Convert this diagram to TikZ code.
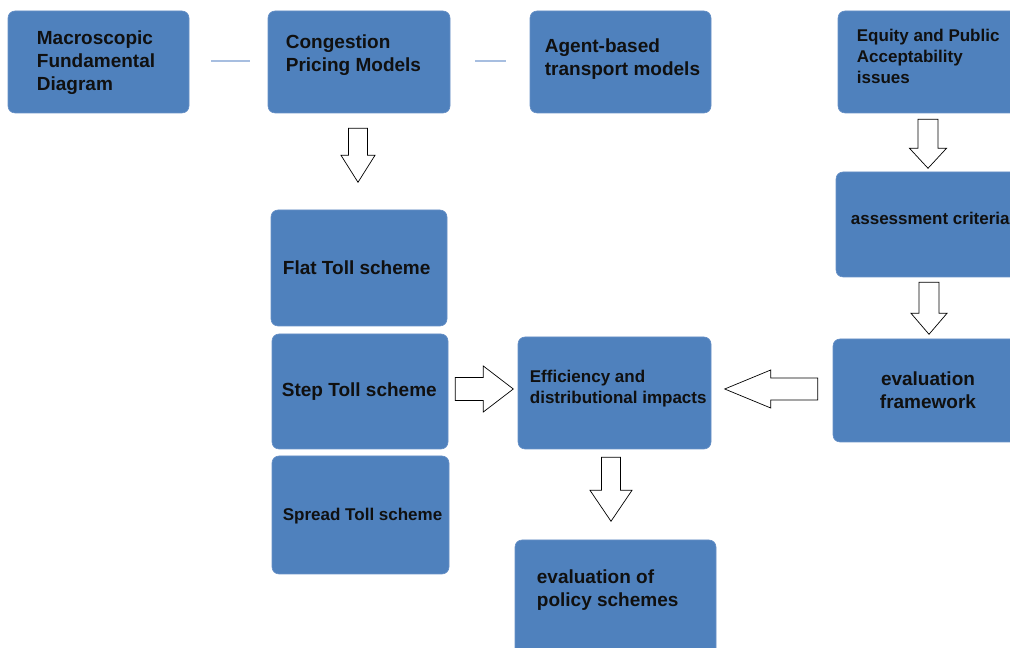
\documentclass[tikz,border=0pt]{standalone}
\usepackage{fontspec}
\setmainfont{Liberation Sans}
\usetikzlibrary{calc}
\definecolor{boxblue}{HTML}{4F81BD}
\definecolor{boxedge}{HTML}{6790C6}
\definecolor{linkblue}{HTML}{A7BEE0}
\definecolor{txt}{HTML}{101010}
\newcommand{\bigtxt}{\fontsize{19}{23}\selectfont\bfseries}
\newcommand{\smalltxt}{\fontsize{17}{21}\selectfont\bfseries}
\newcommand{\blockarrow}[6]{%
  \begin{scope}[shift={(#1)},rotate=#2]
    \draw[blockarr] (0,-#5) -- (#4,-#5) -- (#4,-#6) -- (#3,0) -- (#4,#6) -- (#4,#5) -- (0,#5) -- cycle;
  \end{scope}}
\begin{document}
\begin{tikzpicture}[x=1pt,y=1pt,
  bluebox/.style={draw=boxedge,line width=0.6pt,fill=boxblue,rounded corners=7pt,inner sep=0pt},
  lbl/.style={inner sep=0pt,text=txt,align=left,anchor=west},
  big/.style={font=\bigtxt},
  small/.style={font=\smalltxt},
  linkline/.style={draw=linkblue,line width=1.8pt},
  blockarr/.style={draw=black,fill=white,line width=0.7pt,line join=miter}]
\useasboundingbox (0,0) rectangle (1010,648);
% boxes
\node[bluebox,minimum width=181pt,minimum height=102pt] (mfd) at (98.5,586) {};
\node[bluebox,minimum width=182pt,minimum height=102pt] (cpm) at (359,586) {};
\node[bluebox,minimum width=181pt,minimum height=102pt] (abt) at (620.5,586) {};
\node[bluebox,minimum width=182pt,minimum height=102pt] (epa) at (929,586) {};
\node[bluebox,minimum width=182pt,minimum height=105pt] (ac) at (927,423.5) {};
\node[bluebox,minimum width=190pt,minimum height=103pt] (ef) at (928,257.5) {};
\node[bluebox,minimum width=176pt,minimum height=116pt] (flat) at (359,380) {};
\node[bluebox,minimum width=176pt,minimum height=115pt] (step) at (360,256.5) {};
\node[bluebox,minimum width=177pt,minimum height=118pt] (spread) at (360.5,133) {};
\node[bluebox,minimum width=193pt,minimum height=112pt] (eff) at (614.5,255) {};
\node[bluebox,minimum width=201pt,minimum height=120pt] (evp) at (615.5,48) {};
% texts
\node[lbl,big] (tmfd) at ([xshift=29pt,yshift=-1pt]mfd.west) {Macroscopic\\ Fundamental\\ Diagram};
\node[lbl,big] (tcpm) at ([xshift=18pt,yshift=6.5pt]cpm.west) {Congestion\\ Pricing Models};
\node[lbl,big] (tabt) at ([xshift=15pt,yshift=3pt]abt.west) {Agent-based\\ transport models};
\node[lbl,small] (tepa) at ([xshift=19pt,yshift=5.5pt]epa.west) {Equity and Public\\ Acceptability\\ issues};
\node[lbl,small] (tac) at ([xshift=15pt,yshift=6pt]ac.west) {assessment criteria};
\node[inner sep=0pt,text=txt,align=center,big] (tef) at ([yshift=0.5pt]ef.center) {evaluation\\ framework};
\node[lbl,big] (tflat) at ([xshift=12pt,yshift=0.5pt]flat.west) {Flat Toll scheme};
\node[lbl,big] (tstep) at ([xshift=10pt,yshift=0pt]step.west) {Step Toll scheme};
\node[lbl,small] (tspread) at ([xshift=11pt,yshift=-1pt]spread.west) {Spread Toll scheme};
\node[lbl,small] (teff) at ([xshift=12pt,yshift=4pt]eff.west) {Efficiency and\\ distributional impacts};
\node[lbl,big] (tevp) at ([xshift=22pt,yshift=10pt]evp.west) {evaluation of\\ policy schemes};
% thin links
\draw[linkline] ([xshift=22pt,yshift=1pt]mfd.east) -- ([xshift=-18pt,yshift=1pt]cpm.west);
\draw[linkline] ([xshift=25pt,yshift=1pt]cpm.east) -- ([xshift=-24pt,yshift=1pt]abt.west);
% block arrows
\coordinate (a1) at ([xshift=-1pt,yshift=-15pt]cpm.south);
\coordinate (a2) at ([xshift=-1pt,yshift=-6pt]epa.south);
\coordinate (a3) at ([xshift=2pt,yshift=-5pt]ac.south);
\coordinate (a4) at ([xshift=7pt,yshift=2.5pt]step.east);
\coordinate (a5) at ([xshift=-15pt,yshift=1.5pt]ef.west);
\coordinate (a6) at ([xshift=-3.5pt,yshift=-8pt]eff.south);
\blockarrow{a1}{-90}{54}{27}{9.5}{17}
\blockarrow{a2}{-90}{49}{29}{10}{18.5}
\blockarrow{a3}{-90}{52}{31}{10}{18}
\blockarrow{a4}{0}{58}{28}{11.5}{23}
\blockarrow{a5}{180}{93}{47}{11}{19}
\blockarrow{a6}{-90}{64}{33}{9.5}{21}
\end{tikzpicture}
\end{document}
